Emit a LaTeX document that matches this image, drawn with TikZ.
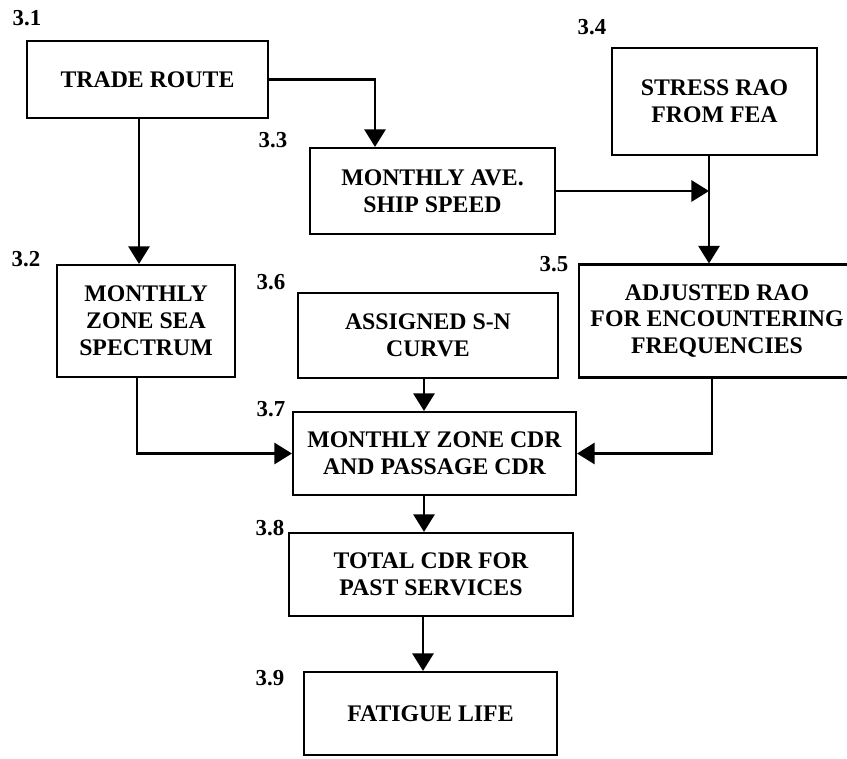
\documentclass[tikz,border=0pt]{standalone}
\usepackage{fontspec}
\setmainfont{Liberation Serif}
\usetikzlibrary{arrows.meta}

\begin{document}
\begin{tikzpicture}[x=0.03cm, y=-0.03cm,
    box/.style={draw, line width=1.8pt, align=center, inner sep=0pt, font=\fontsize{20.3}{23}\selectfont\bfseries},
    num/.style={font=\fontsize{19.5}{22}\selectfont\bfseries, inner sep=0pt},
    arr/.style={line width=2.2pt, -{Triangle[length=15pt, width=18pt]}}]
    \useasboundingbox (0,0) rectangle (847,758);

    \node[box, minimum width=7.23cm, minimum height=2.31cm] (route) at (147.5,79.5) {TRADE ROUTE};
    \node[box, minimum width=7.35cm, minimum height=2.58cm] (speed) at (432.5,191) {MONTHLY AVE.\\SHIP SPEED};
    \node[box, minimum width=6.15cm, minimum height=3.21cm] (stress) at (714.5,101.5) {STRESS RAO\\FROM FEA};
    \node[box, minimum width=5.34cm, minimum height=3.36cm] (sea) at (146,321) {MONTHLY\\ZONE SEA\\SPECTRUM};
    \node[box, minimum width=7.80cm, minimum height=2.55cm] (sn) at (428,335.5) {ASSIGNED S-N\\CURVE};
    \node[box, minimum width=8.28cm, minimum height=3.39cm] (adj) at (717,321) {ADJUSTED RAO\\FOR ENCOUNTERING\\FREQUENCIES};
    \node[box, minimum width=8.49cm, minimum height=2.49cm] (cdr) at (434.5,453.5) {MONTHLY ZONE CDR\\AND PASSAGE CDR};
    \node[box, minimum width=8.52cm, minimum height=2.49cm] (total) at (431,574.5) {TOTAL CDR FOR\\PAST SERVICES};
    \node[box, minimum width=7.59cm, minimum height=2.49cm] (life) at (430.5,713.5) {FATIGUE LIFE};

    \node[num] (n31) at (27,18) {3.1};
    \node[num] (n32) at (26,259) {3.2};
    \node[num] (n33) at (273,140) {3.3};
    \node[num] (n34) at (592,27) {3.4};
    \node[num] (n35) at (554,264) {3.5};
    \node[num] (n36) at (271,282) {3.6};
    \node[num] (n37) at (271,409) {3.7};
    \node[num] (n38) at (270,528) {3.8};
    \node[num] (n39) at (270,678) {3.9};

    \draw[arr] (route.south -| 139,0) -- (sea.north -| 139,0);
    \draw[arr] (route.east) -| (speed.north -| 375,0);
    \draw[arr] (stress.south -| 709,0) -- (adj.north -| 709,0);
    \draw[arr] (speed.east) -- (speed.east -| 709,0);
    \draw[arr] (sea.south -| 137,0) |- (cdr.west);
    \draw[arr] (sn.south -| 424,0) -- (cdr.north -| 424,0);
    \draw[arr] (adj.south -| 712,0) |- (cdr.east);
    \draw[arr] (cdr.south -| 424,0) -- (total.north -| 424,0);
    \draw[arr] (total.south -| 423,0) -- (life.north -| 423,0);
\end{tikzpicture}
\end{document}
